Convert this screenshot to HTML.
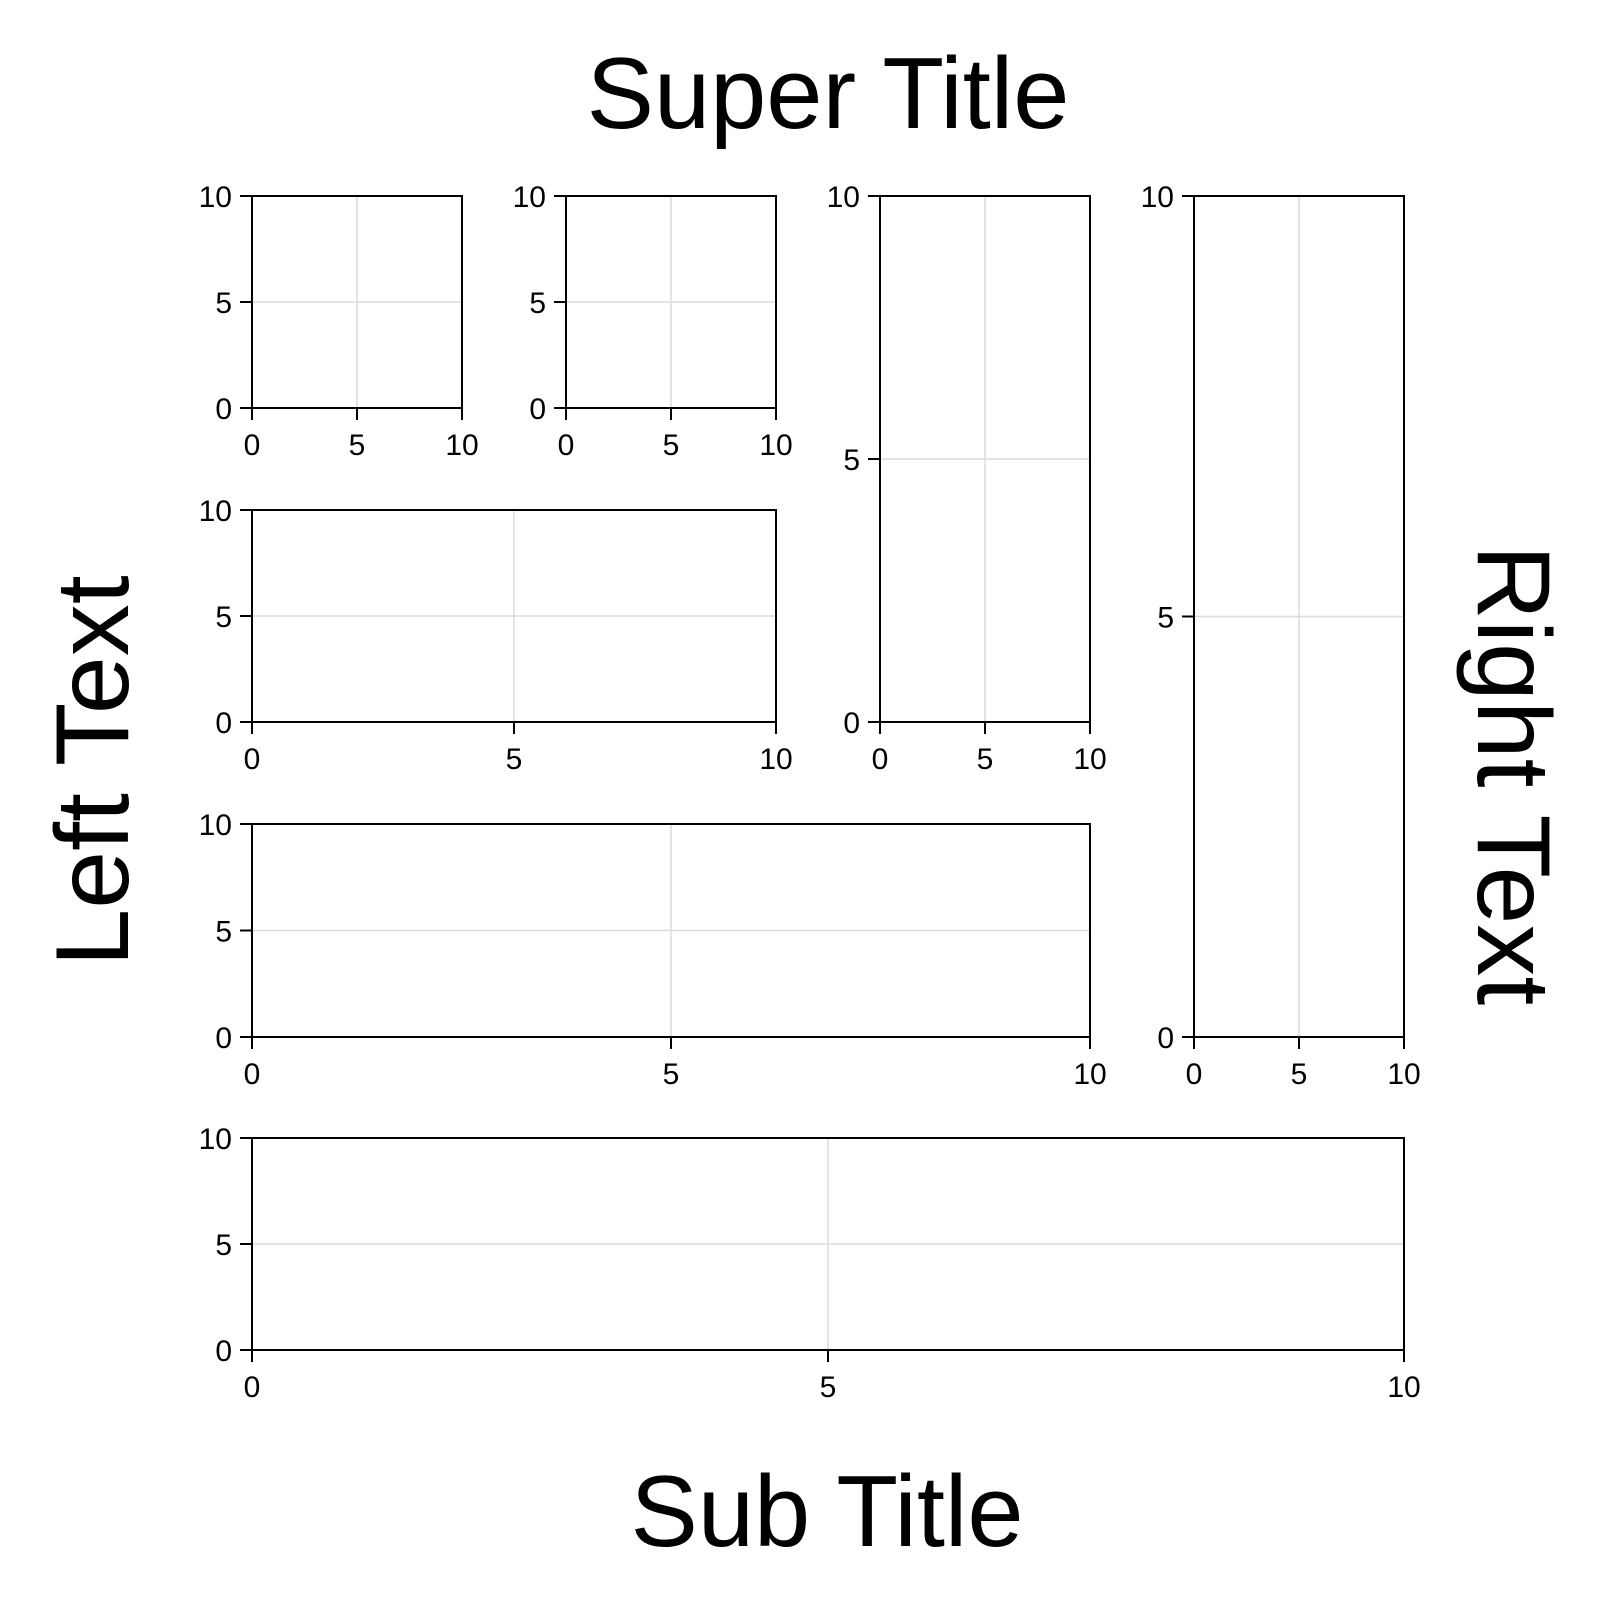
<!DOCTYPE html>
<html><head><meta charset="utf-8">
<style>
html,body{margin:0;padding:0;background:#fff;}
svg{display:block;font-family:"Liberation Sans",Arial,sans-serif;}
</style></head>
<body>
<svg id="fig" width="1600" height="1600" viewBox="0 0 1600 1600" xmlns="http://www.w3.org/2000/svg">
<text x="828" y="128" font-size="101" text-anchor="middle">Super Title</text>
<text x="827" y="1546" font-size="101" text-anchor="middle">Sub Title</text>
<text transform="translate(128,771) rotate(-90)" font-size="104" text-anchor="middle">Left Text</text>
<text transform="translate(1478,775) rotate(90)" font-size="104" text-anchor="middle">Right Text</text>
<g id="axes"></g>
</svg>
<script>
const xTicks = [0, 5, 10];
const yTicks = [0, 5, 10];
const xDomain = [0, 10];
const yDomain = [0, 10];
// layout: [colStart, colEnd, rowStart, rowEnd]
const panels = [[0,0,0,0],[1,1,0,0],[2,2,0,1],[3,3,0,2],[0,1,1,1],[0,2,2,2],[0,3,3,3]];
const colL = [252,566,880,1194], colR = [462,776,1090,1404];
const rowT = [196,510,824,1138], rowB = [408,722,1037,1350];
const NS = "http://www.w3.org/2000/svg";
const g = document.getElementById('axes');
function mk(tag, attrs, parent){const e=document.createElementNS(NS,tag);for(const k in attrs)e.setAttribute(k,attrs[k]);parent.appendChild(e);return e;}
panels.forEach((p,i)=>{
  const L=colL[p[0]], R=colR[p[1]], T=rowT[p[2]], B=rowB[p[3]];
  const sx=v=>L+(v-xDomain[0])/(xDomain[1]-xDomain[0])*(R-L);
  const sy=v=>B-(v-yDomain[0])/(yDomain[1]-yDomain[0])*(B-T);
  const ax=mk('g',{},g);
  
  
  xTicks.forEach(v=>{const gl=mk('line',{x1:sx(v),x2:sx(v),y1:T,y2:B,stroke:'#dcdcdc','stroke-width':1.5},ax);
    
    });
  yTicks.forEach(v=>{const gl=mk('line',{x1:L,x2:R,y1:sy(v),y2:sy(v),stroke:'#dcdcdc','stroke-width':1.5},ax);
    
    });
  const fr=mk('rect',{x:L,y:T,width:R-L,height:B-T,fill:'none',stroke:'#000','stroke-width':2},ax);
  
  
  xTicks.forEach(v=>{
    const t=mk('line',{x1:sx(v),x2:sx(v),y1:B,y2:B+12,stroke:'#000','stroke-width':2},ax);
    
    
    const l=mk('text',{x:sx(v),y:B+47,'font-size':30,'text-anchor':'middle'},ax);
    
    
    l.textContent=v;
  });
  yTicks.forEach(v=>{
    const t=mk('line',{x1:L-12,x2:L,y1:sy(v),y2:sy(v),stroke:'#000','stroke-width':2},ax);
    
    
    const l=mk('text',{x:L-20,y:sy(v)+11,'font-size':30,'text-anchor':'end'},ax);
    
    
    l.textContent=v;
  });
});
</script>
</body></html>
